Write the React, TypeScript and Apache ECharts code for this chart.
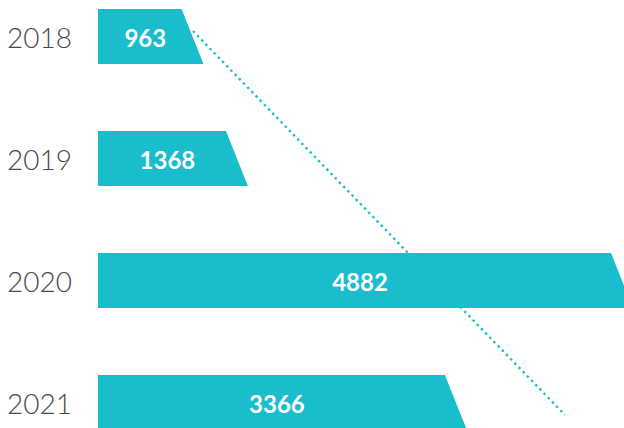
import React, { useEffect, useRef } from "react";
import * as echarts from "echarts";

const years = ["2018", "2019", "2020", "2021"];
const values = [963, 1368, 4882, 3366];

const TEAL = "#19bdcc";

export default function App() {
  const ref = useRef<HTMLDivElement>(null);
  useEffect(() => {
    if (!ref.current) return;
    const chart = echarts.init(ref.current, undefined, { renderer: "svg" });
    chart.setOption({
      animation: false,
      grid: {
        left: 98,
        right: 0,
        top: -24.5,
        height: 488,
        containLabel: false,
        outerBoundsMode: "none",
      },
      xAxis: { type: "value", min: 0, max: 4800, show: false },
      yAxis: {
        type: "category",
        data: years,
        inverse: true,
        axisLine: { show: false },
        axisTick: { show: false },
        splitLine: { show: false },
        axisLabel: {
          align: "left",
          margin: 91,
          fontSize: 28,
          fontWeight: 300,
          fontFamily: "Lato",
          color: "#4a4a4a",
        },
      },
      graphic: [
        {
          type: "line",
          z: 0,
          shape: { x1: 193, y1: 31, x2: 565, y2: 415 },
          style: { stroke: TEAL, lineWidth: 2.4, lineDash: [2.4, 3.6] },
        },
      ],
      series: [
        {
          type: "custom",
          z: 5,
          encode: { x: 0, y: 1 },
          data: values.map((v, i) => [v, i]),
          renderItem: (params: any, api: any) => {
            const v = api.value(0);
            const c = api.value(1);
            const s = api.coord([0, c]);
            const e = api.coord([v, c]);
            const h = api.size([0, 1])[1] * 0.45;
            const slant = h * 0.4;
            const top = s[1] - h / 2;
            const bot = s[1] + h / 2;
            return {
              type: "group",
              children: [
                {
                  type: "polygon",
                  shape: {
                    points: [
                      [s[0], top],
                      [e[0] - slant, top],
                      [e[0], bot],
                      [s[0], bot],
                    ],
                  },
                  style: { fill: TEAL },
                },
                {
                  type: "text",
                  style: {
                    text: String(v),
                    x: (s[0] + e[0] - slant / 2) / 2,
                    y: s[1] + 1,
                    align: "center",
                    verticalAlign: "middle",
                    fill: "#ffffff",
                    fontSize: 24,
                    fontWeight: "bold",
                    fontFamily: "Lato",
                  },
                },
              ],
            };
          },
        },
      ],
    });
    return () => chart.dispose();
  }, []);
  return <div ref={ref} style={{ width: 624, height: 428, position: "absolute", left: 0, top: 0 }} />;
}
